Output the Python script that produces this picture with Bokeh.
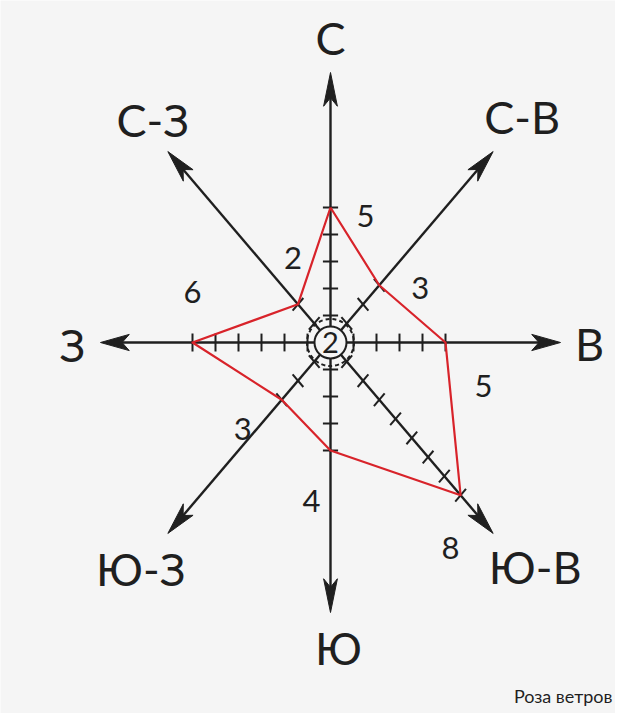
import numpy as np
from bokeh.plotting import figure
from bokeh.core.properties import value
from bokeh.embed import file_html
from bokeh.resources import INLINE

# ---- data ----
directions = ["С", "С-В", "В", "Ю-В", "Ю", "Ю-З", "З", "С-З"]
angles_deg = [90, 45, 0, -45, -90, -135, 180, 135]
frequencies = [5, 3, 5, 8, 4, 3, 6, 2]
calm = 2
axis_length = 10
caption = "Роза ветров"

# ---- layout / style ----
W, H = 615, 713
SX, SY = 23.0, 27.0          # pixels per unit (reference is stretched vertically)
CX, CY = 330.0, 342.0        # centre in canvas pixels
BG = "#f5f5f5"
INK = "#1f1f1f"
RED = "#d8232a"
FONT = value("Lato")

# label offsets (pixels, right/down positive)
dir_label_off = [(0, -35), (29, -35), (29, 1), (42, 34), (8, 35), (-27, 36), (-28, 2), (-15, -32)]
val_label_off = [(35, 8), (41, 3), (38, 43), (-10, 53), (-19, 50), (-39, 29), (0, -51), (-5, -46)]


def off(dx_px, dy_px):
    return dx_px / SX, -dy_px / SY


p = figure(width=W, height=H,
           x_range=(-CX / SX, (W - CX) / SX),
           y_range=((CY - H) / SY, CY / SY),
           output_backend="svg", toolbar_location=None,
           x_axis_location=None, y_axis_location=None, min_border=0)
p.grid.visible = False
p.outline_line_color = None
p.background_fill_color = BG
p.border_fill_color = BG

ang = np.radians(angles_deg)
ux, uy = np.cos(ang), np.sin(ang)
px_, py_ = -uy, ux

# arrow shafts
head_len, head_w, notch = 1.25, 0.30, 0.75
shaft_end = axis_length - head_len * (1 - notch)
p.segment(x0=np.zeros(8), y0=np.zeros(8), x1=ux * shaft_end, y1=uy * shaft_end,
          line_color=INK, line_width=2.4)

# arrow heads
hx, hy = [], []
for i in range(8):
    tx, ty = ux[i] * axis_length, uy[i] * axis_length
    bx, by = tx - ux[i] * head_len, ty - uy[i] * head_len
    nx, ny = tx - ux[i] * head_len * notch, ty - uy[i] * head_len * notch
    hx.append([tx, bx + px_[i] * head_w, nx, bx - px_[i] * head_w])
    hy.append([ty, by + py_[i] * head_w, ny, by - py_[i] * head_w])
p.patches(hx, hy, fill_color=INK, line_color=INK, line_width=1)

# tick marks
tl = 0.33
t0x, t0y, t1x, t1y = [], [], [], []
for i in range(8):
    for k in range(1, frequencies[i] + 1):
        cxk, cyk = ux[i] * k, uy[i] * k
        t0x.append(cxk - px_[i] * tl); t0y.append(cyk - py_[i] * tl)
        t1x.append(cxk + px_[i] * tl); t1y.append(cyk + py_[i] * tl)
p.segment(x0=t0x, y0=t0y, x1=t1x, y1=t1y, line_color=INK, line_width=2)

# wind rose polygon
fx = list(ux * np.array(frequencies)) + [ux[0] * frequencies[0]]
fy = list(uy * np.array(frequencies)) + [uy[0] * frequencies[0]]
p.line(fx, fy, line_color=RED, line_width=2.2, line_join="round")

# calm circle
p.scatter(x=[0], y=[0], size=47, marker="circle", fill_alpha=0,
          line_color=INK, line_width=2, line_dash="4 3")
p.scatter(x=[0], y=[0], size=32, marker="circle", fill_color=BG,
          line_color=INK, line_width=2)
p.text(x=[0], y=[0], text=[str(calm)], text_font=FONT, text_font_size="29px",
       text_align="center", text_baseline="middle", text_color=INK)

# direction labels
lx, ly = [], []
for i in range(8):
    ox, oy = off(*dir_label_off[i])
    lx.append(ux[i] * axis_length + ox)
    ly.append(uy[i] * axis_length + oy)
p.text(x=lx, y=ly, text=directions, text_font=FONT, text_font_size="45px",
       text_align="center", text_baseline="middle", text_color=INK)

# value labels
vx, vy = [], []
for i in range(8):
    ox, oy = off(*val_label_off[i])
    vx.append(ux[i] * frequencies[i] + ox)
    vy.append(uy[i] * frequencies[i] + oy)
p.text(x=vx, y=vy, text=[str(v) for v in frequencies], text_font=FONT,
       text_font_size="31px", text_align="center", text_baseline="middle",
       text_color=INK)

# caption
cx_, cy_ = off(W - 3 - CX, 695 - CY)
p.text(x=[cx_], y=[cy_], text=[caption], text_font=FONT, text_font_size="18px",
       text_align="right", text_baseline="middle", text_color=INK)

open("out.html", "w").write(file_html(p, INLINE))
